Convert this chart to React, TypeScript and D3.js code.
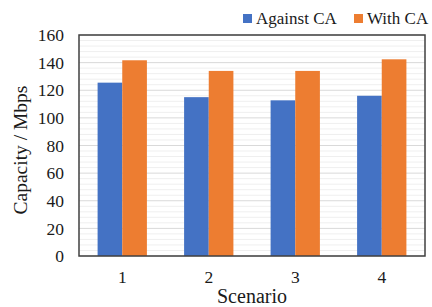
import React from "react";
import * as d3 from "d3";

const categories = ["1", "2", "3", "4"];
const seriesNames = ["Against CA", "With CA"];
const againstCA = [125.5, 115, 112.7, 116];
const withCA = [141.7, 134, 134, 142.4];
const yTicks = [0, 20, 40, 60, 80, 100, 120, 140, 160];
const colors = ["#4472C4", "#ED7D31"];

const W = 432;
const H = 307;
const margin = { left: 79, right: 7, top: 35, bottom: 51 };
const FONT = "Liberation Serif, Tinos, Nimbus Roman, Times New Roman, Times, serif";

export default function App() {
  const x0 = d3
    .scaleBand<string>()
    .domain(categories)
    .range([margin.left, W - margin.right])
    .paddingInner(0.43)
    .paddingOuter(0.215);
  const x1 = d3.scaleBand<string>().domain(seriesNames).range([0, x0.bandwidth()]);
  const y = d3.scaleLinear().domain([0, 160]).range([H - margin.bottom, margin.top]);
  const minor = d3.range(0, 161, 4).filter((v) => v % 20 !== 0);
  const series = [againstCA, withCA];
  const left = margin.left;
  const right = W - margin.right;
  const top = margin.top;
  const bottom = H - margin.bottom;
  const txt = { fontFamily: FONT, fill: "#1a1a1a" } as React.CSSProperties;

  return (
    <svg width={W} height={H} style={{ position: "absolute", left: 0, top: 0 }}>
      <rect x={0} y={0} width={W} height={H} fill="#fff" />
      {minor.map((v) => (
        <line key={"m" + v} x1={left} x2={right} y1={y(v)} y2={y(v)} stroke="#efefef" strokeWidth={1} />
      ))}
      {yTicks.map((v) => (
        <line key={"g" + v} x1={left} x2={right} y1={y(v)} y2={y(v)} stroke="#d9d9d9" strokeWidth={1} />
      ))}
      {categories.map((c, i) =>
        series.map((s, j) => (
          <rect
            key={c + j}
            x={(x0(c) as number) + (x1(seriesNames[j]) as number)}
            y={y(s[i])}
            width={x1.bandwidth()}
            height={y(0) - y(s[i])}
            fill={colors[j]}
          />
        ))
      )}
      <rect x={left} y={top} width={right - left} height={bottom - top} fill="none" stroke="#404040" strokeWidth={1.5} />
      {yTicks.map((v) => (
        <text key={"t" + v} x={64} y={y(v)} dy="0.35em" textAnchor="end" fontSize={17.5} style={txt}>
          {v}
        </text>
      ))}
      {categories.map((c) => (
        <text
          key={"x" + c}
          x={(x0(c) as number) + x0.bandwidth() / 2}
          y={283}
          textAnchor="middle"
          fontSize={17.5}
          style={txt}
        >
          {c}
        </text>
      ))}
      <text x={(left + right) / 2} y={303} textAnchor="middle" fontSize={20} style={txt}>
        Scenario
      </text>
      <text
        transform={`translate(${27},${150}) rotate(-90)`}
        textAnchor="middle"
        fontSize={19.5}
        style={txt}
      >
        Capacity / Mbps
      </text>
      {seriesNames.map((n, j) => {
        const lx = j === 0 ? 243 : 354;
        return (
          <g key={n}>
            <rect x={lx} y={14} width={9} height={9} fill={colors[j]} />
            <text x={lx + 13} y={24} fontSize={17} style={txt}>
              {n}
            </text>
          </g>
        );
      })}
    </svg>
  );
}
